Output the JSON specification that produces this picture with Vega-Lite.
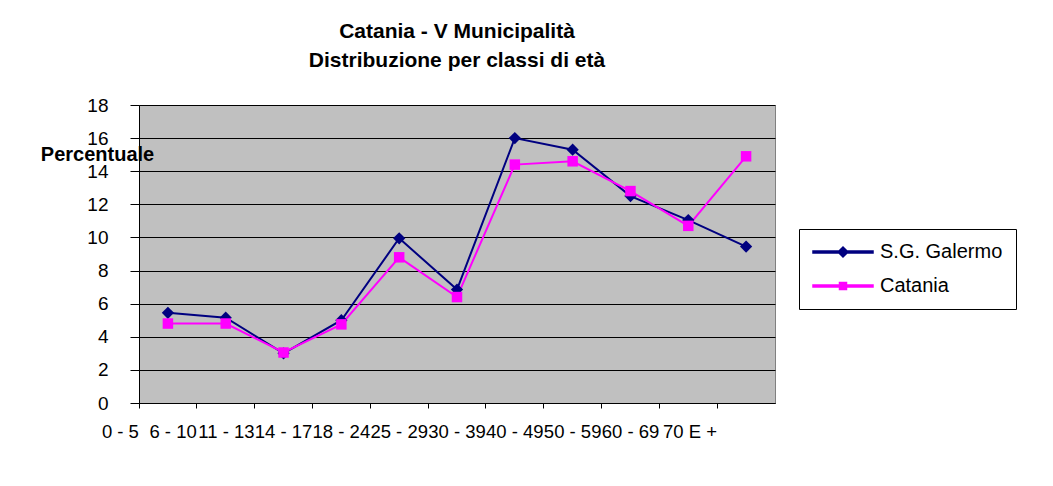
{
  "$schema": "https://vega.github.io/schema/vega-lite/v6.json",
  "width": 636,
  "height": 298,
  "autosize": {"type": "none"},
  "padding": {"left": 139, "top": 105, "right": 278, "bottom": 83},
  "background": "white",
  "title": {
    "text": ["Catania - V Municipalità", "Distribuzione per classi di età"],
    "anchor": "middle",
    "font": "Liberation Sans",
    "fontSize": 21,
    "fontWeight": "bold",
    "lineHeight": 29,
    "color": "black",
    "offset": 25
  },
  "data": {
    "values": [
      {"age": "0 - 5", "series": "S.G. Galermo", "value": 5.45},
      {"age": "6 - 10", "series": "S.G. Galermo", "value": 5.15},
      {"age": "11 - 13", "series": "S.G. Galermo", "value": 3.0},
      {"age": "14 - 17", "series": "S.G. Galermo", "value": 5.0},
      {"age": "18 - 24", "series": "S.G. Galermo", "value": 9.95},
      {"age": "25 - 29", "series": "S.G. Galermo", "value": 6.85},
      {"age": "30 - 39", "series": "S.G. Galermo", "value": 16.0},
      {"age": "40 - 49", "series": "S.G. Galermo", "value": 15.3},
      {"age": "50 - 59", "series": "S.G. Galermo", "value": 12.5},
      {"age": "60 - 69", "series": "S.G. Galermo", "value": 11.05},
      {"age": "70 E +", "series": "S.G. Galermo", "value": 9.45},
      {"age": "0 - 5", "series": "Catania", "value": 4.8},
      {"age": "6 - 10", "series": "Catania", "value": 4.8},
      {"age": "11 - 13", "series": "Catania", "value": 3.05},
      {"age": "14 - 17", "series": "Catania", "value": 4.75},
      {"age": "18 - 24", "series": "Catania", "value": 8.8},
      {"age": "25 - 29", "series": "Catania", "value": 6.4},
      {"age": "30 - 39", "series": "Catania", "value": 14.4},
      {"age": "40 - 49", "series": "Catania", "value": 14.6},
      {"age": "50 - 59", "series": "Catania", "value": 12.8},
      {"age": "60 - 69", "series": "Catania", "value": 10.7},
      {"age": "70 E +", "series": "Catania", "value": 14.9}
    ]
  },
  "encoding": {
    "x": {
      "field": "age",
      "type": "ordinal",
      "sort": null,
      "bandPosition": 0.5,
      "scale": {"type": "band", "paddingInner": 0, "paddingOuter": 0},
      "axis": {
        "title": null,
        "bandPosition": 0,
        "grid": false,
        "domainColor": "black",
        "tickColor": "black",
        "tickSize": 5,
        "labelAngle": 0,
        "labelAlign": "right",
        "labelBaseline": "top",
        "labelOffset": -29,
        "labelPadding": 14,
        "labelFont": "Liberation Sans",
        "labelFontSize": 18.5,
        "labelColor": "black",
        "labelOverlap": false,
        "labelBound": false,
        "labelFlush": false
      }
    },
    "y": {
      "field": "value",
      "type": "quantitative",
      "scale": {"domain": [0, 18], "nice": false},
      "axis": {
        "values": [0, 2, 4, 6, 8, 10, 12, 14, 16, 18],
        "grid": true,
        "gridColor": "black",
        "gridWidth": 1,
        "gridOpacity": 1,
        "domainColor": "black",
        "tickColor": "black",
        "tickSize": 9,
        "labelFont": "Liberation Sans",
        "labelFontSize": 19,
        "labelColor": "black",
        "labelPadding": 22,
        "title": "Percentuale",
        "titleFont": "Liberation Sans",
        "titleFontSize": 20,
        "titleFontWeight": "bold",
        "titleColor": "black",
        "titleAngle": 0,
        "titleAlign": "center",
        "titleBaseline": "alphabetic",
        "titleX": -42,
        "titleY": 55
      }
    },
    "color": {
      "field": "series",
      "type": "nominal",
      "scale": {"domain": ["S.G. Galermo", "Catania"], "range": ["#000080", "#FF00FF"]},
      "legend": {
        "title": null,
        "orient": "none",
        "legendX": 660,
        "legendY": 124,
        "direction": "vertical",
        "strokeColor": "black",
        "fillColor": "white",
        "padding": 13,
        "labelFont": "Liberation Sans",
        "labelFontSize": 20,
        "labelColor": "black",
        "symbolSize": 100,
        "symbolOffset": 21,
        "labelOffset": 27,
        "rowPadding": 14,
        "symbolOpacity": 1
      }
    }
  },
  "layer": [
    {"mark": {"type": "line", "strokeWidth": 2}},
    {
      "transform": [{"filter": "datum.series === 'S.G. Galermo'"}],
      "mark": {"type": "point", "shape": "diamond", "size": 150, "filled": true, "opacity": 1}
    },
    {
      "transform": [{"filter": "datum.series === 'Catania'"}],
      "mark": {"type": "point", "shape": "square", "size": 110, "filled": true, "opacity": 1}
    },
    {
      "mark": {"type": "point", "filled": true, "opacity": 0},
      "encoding": {
        "shape": {
          "field": "series",
          "type": "nominal",
          "scale": {"domain": ["S.G. Galermo", "Catania"], "range": ["M-6,-0.2H6V0.2H-6Z M-1,0L0,-1L1,0L0,1Z", "M-6,-0.2H6V0.2H-6Z M-0.7,-0.7H0.7V0.7H-0.7Z"]},
          "legend": {
            "title": null,
            "orient": "none",
            "legendX": 660,
            "legendY": 124,
            "direction": "vertical",
            "strokeColor": "black",
            "fillColor": "white",
            "padding": 13,
            "labelFont": "Liberation Sans",
            "labelFontSize": 20,
            "labelColor": "black",
            "symbolSize": 100,
            "symbolOffset": 21,
            "labelOffset": 27,
            "rowPadding": 14,
            "symbolOpacity": 1
          }
        }
      }
    }
  ],
  "config": {
    "view": {"fill": "#C0C0C0", "stroke": "#808080", "strokeWidth": 1}
  }
}
